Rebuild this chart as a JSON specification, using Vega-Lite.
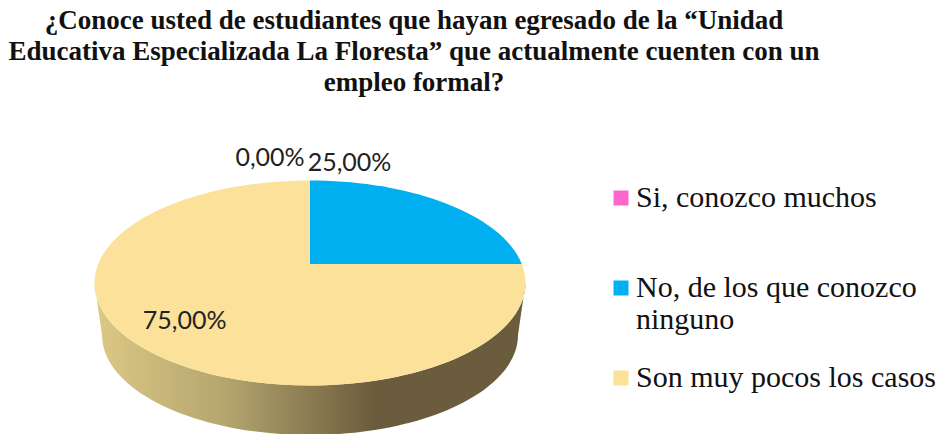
{
"$schema":"https://vega.github.io/schema/vega-lite/v6.json",
"width":938,"height":434,"padding":0,"autosize":{"type":"none"},"background":"white",
"title":{"text":["¿Conoce usted de estudiantes que hayan egresado de la “Unidad","Educativa Especializada La Floresta” que actualmente cuenten con un","empleo formal?"],"font":"Liberation Serif","fontSize":27,"fontWeight":"bold","color":"#111111","anchor":"middle","frame":"group","dx":-55,"offset":-118,"baseline":"alphabetic","lineHeight":31},
"config":{"view":{"stroke":null}},
"data":{"values":[
{"categoria":"Si, conozco muchos","porcentaje":0,"etiqueta":"0,00%"},
{"categoria":"No, de los que conozco ninguno","porcentaje":25,"etiqueta":"25,00%"},
{"categoria":"Son muy pocos los casos","porcentaje":75,"etiqueta":"75,00%"}
]},
"resolve":{"scale":{"x":"independent","y":"independent"}},
"layer":[
{"transform":[{"filter":"datum.porcentaje == 75"}],
 "mark":{"type":"point","filled":true,"opacity":1,"size":4,"clip":false,
  "shape":"M-215.5,19 A215.5,102.5 0 0 0 215.5,19 L208,71 A208,100 0 0 1 -208,71 Z",
  "fill":{"x1":0,"y1":0,"x2":1,"y2":0,"gradient":"linear","stops":[{"offset":0,"color":"#DDC985"},{"offset":0.3,"color":"#B5A66F"},{"offset":0.65,"color":"#6A5C3C"},{"offset":1,"color":"#6A5C3C"}]}},
 "encoding":{
  "x":{"field":"porcentaje","type":"quantitative","axis":null,"scale":{"domain":[0,75],"range":[310,310]}},
  "y":{"field":"porcentaje","type":"quantitative","axis":null,"scale":{"domain":[0,75],"range":[264,264]}}}},
{"transform":[{"filter":"datum.porcentaje == 75"}],
 "mark":{"type":"point","filled":true,"opacity":1,"size":4,"clip":false,"shape":"M0,0 L211.8,0 A215.5,102.5 0 1 1 0,-83.5 Z"},
 "encoding":{
  "x":{"field":"porcentaje","type":"quantitative","axis":null,"scale":{"domain":[0,75],"range":[310,310]}},
  "y":{"field":"porcentaje","type":"quantitative","axis":null,"scale":{"domain":[0,75],"range":[264,264]}},
  "color":{"field":"categoria","type":"nominal","scale":{"domain":["Si, conozco muchos","No, de los que conozco ninguno","Son muy pocos los casos"],"range":["#FF66CC","#00B0F0","#FBE199"]},
   "legend":{"title":null,"orient":"none","legendX":606,"legendY":183,"gridAlign":"all","symbolType":"square","symbolSize":225,"symbolOpacity":1,"symbolStrokeWidth":0,"labelFont":"Liberation Serif","labelFontSize":30,"labelColor":"#111111","labelLimit":400,"labelOffset":0,"rowPadding":28,"labelExpr":"datum.label == 'No, de los que conozco ninguno' ? ['No, de los que conozco','ninguno'] : datum.label"}}}},
{"transform":[{"filter":"datum.porcentaje == 25"}],
 "mark":{"type":"point","filled":true,"opacity":1,"size":4,"clip":false,"shape":"M0,0 L0,-83.5 A215.5,102.5 0 0 1 211.8,0 Z"},
 "encoding":{
  "x":{"field":"porcentaje","type":"quantitative","axis":null,"scale":{"domain":[0,75],"range":[310,310]}},
  "y":{"field":"porcentaje","type":"quantitative","axis":null,"scale":{"domain":[0,75],"range":[264,264]}},
  "color":{"field":"categoria","type":"nominal"}}},
{"mark":{"type":"text","font":"Lato","fontSize":25,"color":"#222222","baseline":"middle","align":"center"},
 "encoding":{
  "x":{"field":"porcentaje","type":"quantitative","axis":null,"scale":{"domain":[0,25,75],"range":[270,349.5,184.7]}},
  "y":{"field":"porcentaje","type":"quantitative","axis":null,"scale":{"domain":[0,25,75],"range":[158,163,321]}},
  "text":{"field":"etiqueta","type":"nominal"}}}
]}
